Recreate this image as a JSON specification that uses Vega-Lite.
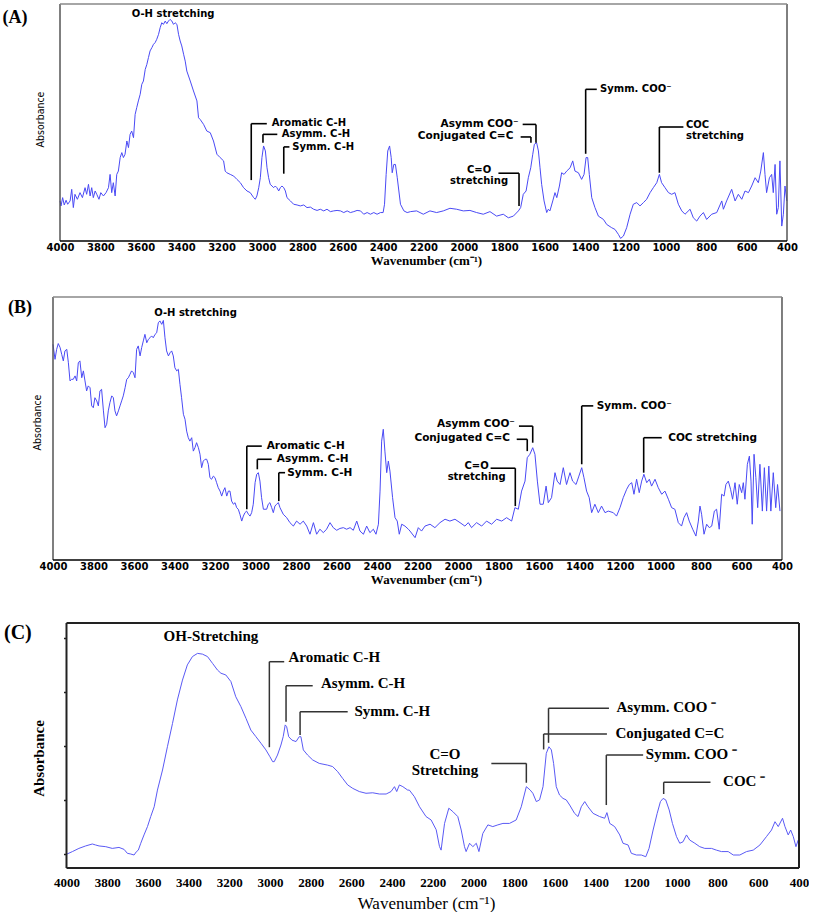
{
"$schema": "https://vega.github.io/schema/vega-lite/v6.json",
"background": "white",
"padding": {"top": 3, "left": 2, "right": 0, "bottom": 2},
"config": {"view": {"stroke": null}, "axis": {"grid": false}},
"datasets": {
"specA": [{"wn":4000,"a":16.9},{"wn":3995,"a":14.8},{"wn":3987,"a":18.3},{"wn":3979,"a":15.2},{"wn":3970,"a":17.2},{"wn":3962,"a":15.5},{"wn":3950,"a":16.9},{"wn":3942,"a":21.8},{"wn":3934,"a":14.1},{"wn":3926,"a":19.7},{"wn":3914,"a":17.6},{"wn":3901,"a":20.4},{"wn":3889,"a":18.3},{"wn":3876,"a":22.5},{"wn":3868,"a":19.7},{"wn":3859,"a":23.9},{"wn":3851,"a":19.0},{"wn":3843,"a":22.5},{"wn":3835,"a":18.3},{"wn":3826,"a":21.1},{"wn":3818,"a":19.7},{"wn":3807,"a":17.6},{"wn":3798,"a":20.4},{"wn":3785,"a":19.0},{"wn":3772,"a":20.4},{"wn":3760,"a":22.5},{"wn":3752,"a":28.1},{"wn":3744,"a":20.4},{"wn":3736,"a":24.6},{"wn":3727,"a":19.0},{"wn":3719,"a":28.1},{"wn":3711,"a":29.5},{"wn":3702,"a":35.2},{"wn":3694,"a":37.3},{"wn":3686,"a":35.2},{"wn":3678,"a":36.6},{"wn":3669,"a":42.2},{"wn":3661,"a":39.4},{"wn":3653,"a":45.0},{"wn":3645,"a":46.4},{"wn":3636,"a":43.6},{"wn":3628,"a":53.4},{"wn":3620,"a":56.3},{"wn":3612,"a":59.1},{"wn":3603,"a":61.9},{"wn":3595,"a":66.1},{"wn":3587,"a":67.5},{"wn":3578,"a":72.4},{"wn":3570,"a":74.5},{"wn":3562,"a":77.4},{"wn":3554,"a":80.2},{"wn":3545,"a":81.6},{"wn":3537,"a":83.0},{"wn":3529,"a":83.7},{"wn":3521,"a":85.1},{"wn":3512,"a":87.2},{"wn":3504,"a":90.0},{"wn":3496,"a":92.1},{"wn":3488,"a":91.4},{"wn":3479,"a":92.8},{"wn":3471,"a":91.7},{"wn":3463,"a":92.8},{"wn":3455,"a":93.5},{"wn":3446,"a":92.8},{"wn":3438,"a":91.4},{"wn":3430,"a":92.1},{"wn":3421,"a":91.4},{"wn":3413,"a":87.2},{"wn":3405,"a":84.4},{"wn":3397,"a":82.3},{"wn":3388,"a":78.8},{"wn":3380,"a":75.9},{"wn":3372,"a":71.7},{"wn":3355,"a":67.5},{"wn":3339,"a":63.3},{"wn":3322,"a":59.1},{"wn":3314,"a":52.0},{"wn":3306,"a":51.3},{"wn":3289,"a":49.2},{"wn":3273,"a":46.4},{"wn":3256,"a":45.7},{"wn":3240,"a":42.2},{"wn":3223,"a":36.6},{"wn":3207,"a":35.2},{"wn":3190,"a":33.8},{"wn":3182,"a":29.5},{"wn":3174,"a":28.8},{"wn":3157,"a":28.1},{"wn":3140,"a":27.4},{"wn":3124,"a":26.0},{"wn":3107,"a":24.6},{"wn":3091,"a":22.5},{"wn":3074,"a":21.1},{"wn":3058,"a":20.4},{"wn":3041,"a":18.3},{"wn":3033,"a":17.6},{"wn":3025,"a":19.0},{"wn":3016,"a":22.5},{"wn":3008,"a":26.7},{"wn":3000,"a":35.2},{"wn":2992,"a":40.1},{"wn":2983,"a":38.0},{"wn":2975,"a":30.9},{"wn":2967,"a":26.7},{"wn":2959,"a":23.9},{"wn":2950,"a":23.2},{"wn":2942,"a":22.5},{"wn":2934,"a":23.2},{"wn":2926,"a":22.5},{"wn":2917,"a":21.1},{"wn":2909,"a":22.5},{"wn":2901,"a":23.2},{"wn":2892,"a":22.5},{"wn":2884,"a":21.1},{"wn":2876,"a":18.3},{"wn":2859,"a":16.9},{"wn":2843,"a":15.5},{"wn":2826,"a":15.2},{"wn":2810,"a":14.8},{"wn":2793,"a":15.2},{"wn":2777,"a":14.1},{"wn":2760,"a":14.3},{"wn":2744,"a":13.4},{"wn":2727,"a":12.9},{"wn":2711,"a":13.4},{"wn":2694,"a":12.7},{"wn":2678,"a":13.4},{"wn":2661,"a":12.4},{"wn":2645,"a":12.7},{"wn":2628,"a":12.9},{"wn":2611,"a":12.7},{"wn":2595,"a":12.0},{"wn":2578,"a":12.7},{"wn":2562,"a":12.0},{"wn":2545,"a":12.4},{"wn":2529,"a":12.9},{"wn":2512,"a":12.7},{"wn":2496,"a":11.3},{"wn":2479,"a":12.0},{"wn":2463,"a":11.3},{"wn":2446,"a":12.0},{"wn":2430,"a":11.3},{"wn":2413,"a":12.0},{"wn":2400,"a":12.0},{"wn":2393,"a":15.5},{"wn":2385,"a":28.1},{"wn":2377,"a":38.0},{"wn":2368,"a":40.1},{"wn":2360,"a":35.2},{"wn":2355,"a":28.8},{"wn":2347,"a":32.3},{"wn":2339,"a":32.3},{"wn":2330,"a":26.7},{"wn":2322,"a":21.1},{"wn":2314,"a":15.5},{"wn":2297,"a":12.7},{"wn":2281,"a":12.0},{"wn":2264,"a":12.4},{"wn":2234,"a":12.7},{"wn":2201,"a":11.3},{"wn":2168,"a":12.7},{"wn":2135,"a":12.0},{"wn":2102,"a":12.7},{"wn":2069,"a":13.8},{"wn":2036,"a":13.4},{"wn":2003,"a":12.7},{"wn":1970,"a":12.9},{"wn":1937,"a":12.0},{"wn":1904,"a":11.3},{"wn":1871,"a":12.4},{"wn":1838,"a":10.5},{"wn":1805,"a":11.3},{"wn":1780,"a":9.8},{"wn":1755,"a":10.5},{"wn":1730,"a":12.7},{"wn":1719,"a":14.1},{"wn":1706,"a":19.7},{"wn":1692,"a":21.1},{"wn":1681,"a":26.7},{"wn":1669,"a":30.9},{"wn":1659,"a":36.6},{"wn":1651,"a":40.8},{"wn":1640,"a":41.5},{"wn":1631,"a":38.0},{"wn":1623,"a":30.9},{"wn":1615,"a":23.9},{"wn":1603,"a":16.9},{"wn":1590,"a":12.0},{"wn":1582,"a":13.4},{"wn":1574,"a":12.7},{"wn":1560,"a":16.9},{"wn":1549,"a":20.4},{"wn":1540,"a":18.3},{"wn":1527,"a":23.2},{"wn":1516,"a":28.8},{"wn":1504,"a":28.1},{"wn":1491,"a":29.5},{"wn":1474,"a":30.9},{"wn":1461,"a":33.8},{"wn":1450,"a":29.5},{"wn":1433,"a":28.8},{"wn":1417,"a":26.0},{"wn":1405,"a":28.1},{"wn":1395,"a":35.2},{"wn":1387,"a":35.2},{"wn":1379,"a":28.1},{"wn":1367,"a":18.3},{"wn":1351,"a":14.1},{"wn":1334,"a":10.5},{"wn":1309,"a":9.1},{"wn":1293,"a":7.0},{"wn":1268,"a":5.6},{"wn":1252,"a":4.9},{"wn":1235,"a":2.8},{"wn":1224,"a":1.1},{"wn":1210,"a":2.1},{"wn":1194,"a":5.6},{"wn":1177,"a":11.3},{"wn":1161,"a":15.5},{"wn":1144,"a":16.2},{"wn":1128,"a":14.8},{"wn":1111,"a":16.2},{"wn":1095,"a":17.6},{"wn":1078,"a":20.4},{"wn":1062,"a":22.5},{"wn":1045,"a":24.6},{"wn":1032,"a":28.1},{"wn":1021,"a":24.6},{"wn":1004,"a":22.5},{"wn":987,"a":20.4},{"wn":971,"a":19.7},{"wn":955,"a":20.4},{"wn":938,"a":15.5},{"wn":921,"a":12.7},{"wn":905,"a":11.3},{"wn":880,"a":13.4},{"wn":864,"a":9.8},{"wn":847,"a":8.4},{"wn":831,"a":10.5},{"wn":814,"a":12.0},{"wn":798,"a":9.1},{"wn":773,"a":11.3},{"wn":748,"a":12.0},{"wn":723,"a":16.9},{"wn":715,"a":13.4},{"wn":699,"a":16.9},{"wn":674,"a":21.8},{"wn":657,"a":16.9},{"wn":641,"a":19.7},{"wn":624,"a":17.6},{"wn":608,"a":21.1},{"wn":591,"a":20.4},{"wn":575,"a":23.2},{"wn":558,"a":26.7},{"wn":542,"a":24.6},{"wn":530,"a":29.5},{"wn":517,"a":37.3},{"wn":509,"a":28.1},{"wn":501,"a":20.4},{"wn":487,"a":26.7},{"wn":476,"a":28.1},{"wn":468,"a":20.4},{"wn":459,"a":32.3},{"wn":451,"a":11.3},{"wn":443,"a":14.1},{"wn":435,"a":33.8},{"wn":426,"a":6.3},{"wn":418,"a":11.3},{"wn":410,"a":23.2},{"wn":401,"a":16.9}],
"specB": [{"wn":4000,"a":82.0},{"wn":3990,"a":76.3},{"wn":3982,"a":80.1},{"wn":3974,"a":82.3},{"wn":3965,"a":80.8},{"wn":3957,"a":78.2},{"wn":3949,"a":75.7},{"wn":3941,"a":79.5},{"wn":3932,"a":80.1},{"wn":3924,"a":75.0},{"wn":3916,"a":68.1},{"wn":3908,"a":68.7},{"wn":3900,"a":68.7},{"wn":3891,"a":70.0},{"wn":3883,"a":68.1},{"wn":3875,"a":75.0},{"wn":3867,"a":75.7},{"wn":3858,"a":69.3},{"wn":3850,"a":71.9},{"wn":3842,"a":68.1},{"wn":3834,"a":64.3},{"wn":3826,"a":66.2},{"wn":3817,"a":65.5},{"wn":3809,"a":58.6},{"wn":3801,"a":57.9},{"wn":3793,"a":61.7},{"wn":3784,"a":60.5},{"wn":3776,"a":58.6},{"wn":3768,"a":64.3},{"wn":3760,"a":64.9},{"wn":3751,"a":56.7},{"wn":3743,"a":50.3},{"wn":3735,"a":51.6},{"wn":3727,"a":56.7},{"wn":3719,"a":59.8},{"wn":3710,"a":62.4},{"wn":3702,"a":61.7},{"wn":3694,"a":56.7},{"wn":3686,"a":54.8},{"wn":3677,"a":56.7},{"wn":3669,"a":58.6},{"wn":3661,"a":60.5},{"wn":3653,"a":62.4},{"wn":3644,"a":65.5},{"wn":3636,"a":68.7},{"wn":3628,"a":69.3},{"wn":3620,"a":70.6},{"wn":3612,"a":71.9},{"wn":3603,"a":71.2},{"wn":3595,"a":69.3},{"wn":3587,"a":80.1},{"wn":3579,"a":81.4},{"wn":3570,"a":77.6},{"wn":3562,"a":80.8},{"wn":3554,"a":83.3},{"wn":3546,"a":85.8},{"wn":3537,"a":82.6},{"wn":3529,"a":83.9},{"wn":3521,"a":84.5},{"wn":3513,"a":85.2},{"wn":3505,"a":84.5},{"wn":3496,"a":85.8},{"wn":3488,"a":86.4},{"wn":3480,"a":90.2},{"wn":3472,"a":90.9},{"wn":3463,"a":89.6},{"wn":3455,"a":91.1},{"wn":3447,"a":84.5},{"wn":3439,"a":79.5},{"wn":3430,"a":77.6},{"wn":3422,"a":78.8},{"wn":3414,"a":79.5},{"wn":3406,"a":77.6},{"wn":3398,"a":73.1},{"wn":3389,"a":71.9},{"wn":3381,"a":72.5},{"wn":3373,"a":66.8},{"wn":3365,"a":61.7},{"wn":3356,"a":55.4},{"wn":3348,"a":53.5},{"wn":3340,"a":49.0},{"wn":3332,"a":46.5},{"wn":3324,"a":45.2},{"wn":3315,"a":46.5},{"wn":3307,"a":41.4},{"wn":3299,"a":42.7},{"wn":3291,"a":44.6},{"wn":3282,"a":42.7},{"wn":3274,"a":40.2},{"wn":3266,"a":35.1},{"wn":3258,"a":37.6},{"wn":3249,"a":38.3},{"wn":3241,"a":38.3},{"wn":3233,"a":36.4},{"wn":3225,"a":31.3},{"wn":3217,"a":30.7},{"wn":3208,"a":31.9},{"wn":3200,"a":31.3},{"wn":3192,"a":29.4},{"wn":3184,"a":27.5},{"wn":3175,"a":26.2},{"wn":3167,"a":24.3},{"wn":3159,"a":26.2},{"wn":3151,"a":27.5},{"wn":3142,"a":24.3},{"wn":3134,"a":26.2},{"wn":3126,"a":26.2},{"wn":3118,"a":22.4},{"wn":3109,"a":21.2},{"wn":3101,"a":21.8},{"wn":3093,"a":19.9},{"wn":3085,"a":19.3},{"wn":3077,"a":17.4},{"wn":3068,"a":14.8},{"wn":3060,"a":16.7},{"wn":3052,"a":18.0},{"wn":3044,"a":18.6},{"wn":3035,"a":17.4},{"wn":3027,"a":16.7},{"wn":3019,"a":18.0},{"wn":3011,"a":21.2},{"wn":3002,"a":29.4},{"wn":2994,"a":32.6},{"wn":2986,"a":33.2},{"wn":2978,"a":30.0},{"wn":2970,"a":23.7},{"wn":2961,"a":19.3},{"wn":2953,"a":19.3},{"wn":2945,"a":19.3},{"wn":2937,"a":21.2},{"wn":2929,"a":21.8},{"wn":2920,"a":19.9},{"wn":2912,"a":18.0},{"wn":2904,"a":20.5},{"wn":2896,"a":21.2},{"wn":2887,"a":21.8},{"wn":2879,"a":19.9},{"wn":2863,"a":17.4},{"wn":2846,"a":16.1},{"wn":2830,"a":14.2},{"wn":2813,"a":12.9},{"wn":2797,"a":14.8},{"wn":2780,"a":13.6},{"wn":2764,"a":14.8},{"wn":2747,"a":12.9},{"wn":2731,"a":9.8},{"wn":2714,"a":14.2},{"wn":2698,"a":9.8},{"wn":2682,"a":11.7},{"wn":2665,"a":10.4},{"wn":2649,"a":11.7},{"wn":2632,"a":14.2},{"wn":2616,"a":12.3},{"wn":2599,"a":11.3},{"wn":2583,"a":12.0},{"wn":2566,"a":12.3},{"wn":2550,"a":11.7},{"wn":2533,"a":12.3},{"wn":2517,"a":11.3},{"wn":2500,"a":14.8},{"wn":2484,"a":11.0},{"wn":2467,"a":9.8},{"wn":2451,"a":12.9},{"wn":2435,"a":10.4},{"wn":2418,"a":11.7},{"wn":2405,"a":9.8},{"wn":2393,"a":13.6},{"wn":2385,"a":26.2},{"wn":2377,"a":45.2},{"wn":2369,"a":49.7},{"wn":2361,"a":41.4},{"wn":2352,"a":33.2},{"wn":2344,"a":37.6},{"wn":2336,"a":33.8},{"wn":2323,"a":23.7},{"wn":2311,"a":16.1},{"wn":2300,"a":14.8},{"wn":2290,"a":9.8},{"wn":2278,"a":13.6},{"wn":2262,"a":12.9},{"wn":2245,"a":11.7},{"wn":2237,"a":11.0},{"wn":2212,"a":8.5},{"wn":2196,"a":12.3},{"wn":2180,"a":11.0},{"wn":2163,"a":12.9},{"wn":2138,"a":13.6},{"wn":2114,"a":12.3},{"wn":2089,"a":14.2},{"wn":2064,"a":15.5},{"wn":2040,"a":14.8},{"wn":2015,"a":15.5},{"wn":1990,"a":14.2},{"wn":1966,"a":12.9},{"wn":1949,"a":14.2},{"wn":1933,"a":12.3},{"wn":1908,"a":14.2},{"wn":1883,"a":12.9},{"wn":1859,"a":14.8},{"wn":1834,"a":13.6},{"wn":1809,"a":15.5},{"wn":1784,"a":14.8},{"wn":1760,"a":16.1},{"wn":1735,"a":14.8},{"wn":1719,"a":19.9},{"wn":1702,"a":19.3},{"wn":1686,"a":26.2},{"wn":1669,"a":30.0},{"wn":1658,"a":38.9},{"wn":1645,"a":40.2},{"wn":1631,"a":42.7},{"wn":1620,"a":40.2},{"wn":1608,"a":30.0},{"wn":1595,"a":21.2},{"wn":1579,"a":21.2},{"wn":1565,"a":28.1},{"wn":1554,"a":21.8},{"wn":1538,"a":23.7},{"wn":1521,"a":33.2},{"wn":1510,"a":30.0},{"wn":1496,"a":28.7},{"wn":1480,"a":35.1},{"wn":1464,"a":28.7},{"wn":1447,"a":33.2},{"wn":1434,"a":30.0},{"wn":1417,"a":28.7},{"wn":1403,"a":31.9},{"wn":1389,"a":35.1},{"wn":1378,"a":31.3},{"wn":1365,"a":26.2},{"wn":1352,"a":23.7},{"wn":1340,"a":18.0},{"wn":1324,"a":21.2},{"wn":1307,"a":18.0},{"wn":1291,"a":20.5},{"wn":1274,"a":18.0},{"wn":1258,"a":18.6},{"wn":1233,"a":18.0},{"wn":1217,"a":16.7},{"wn":1200,"a":19.9},{"wn":1184,"a":23.7},{"wn":1167,"a":26.9},{"wn":1154,"a":28.7},{"wn":1142,"a":29.4},{"wn":1131,"a":25.0},{"wn":1118,"a":30.7},{"wn":1105,"a":25.6},{"wn":1093,"a":30.0},{"wn":1082,"a":32.6},{"wn":1068,"a":29.4},{"wn":1055,"a":30.7},{"wn":1044,"a":28.1},{"wn":1027,"a":30.7},{"wn":1011,"a":27.5},{"wn":994,"a":25.0},{"wn":978,"a":26.2},{"wn":961,"a":23.1},{"wn":945,"a":19.9},{"wn":929,"a":19.3},{"wn":912,"a":14.2},{"wn":896,"a":12.9},{"wn":884,"a":16.1},{"wn":871,"a":18.0},{"wn":858,"a":14.8},{"wn":841,"a":11.7},{"wn":825,"a":9.1},{"wn":813,"a":14.8},{"wn":805,"a":20.5},{"wn":797,"a":17.4},{"wn":785,"a":9.8},{"wn":772,"a":13.6},{"wn":759,"a":12.3},{"wn":747,"a":12.9},{"wn":734,"a":18.6},{"wn":723,"a":19.3},{"wn":710,"a":11.7},{"wn":698,"a":25.0},{"wn":686,"a":24.3},{"wn":677,"a":28.7},{"wn":665,"a":30.0},{"wn":654,"a":26.9},{"wn":644,"a":23.1},{"wn":632,"a":29.4},{"wn":621,"a":21.2},{"wn":611,"a":28.7},{"wn":599,"a":25.6},{"wn":591,"a":29.4},{"wn":583,"a":23.1},{"wn":571,"a":36.4},{"wn":561,"a":39.5},{"wn":553,"a":30.0},{"wn":547,"a":13.6},{"wn":538,"a":40.2},{"wn":529,"a":31.3},{"wn":520,"a":19.9},{"wn":509,"a":36.4},{"wn":497,"a":18.6},{"wn":487,"a":35.1},{"wn":476,"a":18.6},{"wn":465,"a":35.7},{"wn":455,"a":18.6},{"wn":443,"a":33.2},{"wn":431,"a":19.9},{"wn":422,"a":28.7},{"wn":410,"a":18.6}],
"specC": [{"wn":4000,"a":5.6},{"wn":3971,"a":6.7},{"wn":3939,"a":8.0},{"wn":3906,"a":9.0},{"wn":3873,"a":9.8},{"wn":3857,"a":9.4},{"wn":3840,"a":9.0},{"wn":3807,"a":8.7},{"wn":3775,"a":8.0},{"wn":3742,"a":8.4},{"wn":3717,"a":7.6},{"wn":3701,"a":6.0},{"wn":3684,"a":5.7},{"wn":3668,"a":5.3},{"wn":3656,"a":6.7},{"wn":3647,"a":7.3},{"wn":3635,"a":10.1},{"wn":3619,"a":13.5},{"wn":3602,"a":16.9},{"wn":3586,"a":21.0},{"wn":3569,"a":25.0},{"wn":3553,"a":31.8},{"wn":3528,"a":40.0},{"wn":3504,"a":49.5},{"wn":3479,"a":59.0},{"wn":3455,"a":68.6},{"wn":3430,"a":76.7},{"wn":3406,"a":82.9},{"wn":3381,"a":86.3},{"wn":3356,"a":87.6},{"wn":3332,"a":87.3},{"wn":3307,"a":86.3},{"wn":3282,"a":83.5},{"wn":3258,"a":80.8},{"wn":3241,"a":79.5},{"wn":3217,"a":78.8},{"wn":3192,"a":76.1},{"wn":3168,"a":69.9},{"wn":3143,"a":65.9},{"wn":3118,"a":61.1},{"wn":3094,"a":56.3},{"wn":3069,"a":53.6},{"wn":3044,"a":50.9},{"wn":3020,"a":48.2},{"wn":3000,"a":45.4},{"wn":2987,"a":43.4},{"wn":2979,"a":43.4},{"wn":2963,"a":46.1},{"wn":2946,"a":50.2},{"wn":2935,"a":53.6},{"wn":2925,"a":58.4},{"wn":2918,"a":57.7},{"wn":2908,"a":53.6},{"wn":2892,"a":52.2},{"wn":2872,"a":51.6},{"wn":2856,"a":53.6},{"wn":2848,"a":53.6},{"wn":2836,"a":48.2},{"wn":2815,"a":46.1},{"wn":2790,"a":44.1},{"wn":2758,"a":42.7},{"wn":2717,"a":42.0},{"wn":2692,"a":41.4},{"wn":2667,"a":39.3},{"wn":2643,"a":36.6},{"wn":2618,"a":33.9},{"wn":2593,"a":32.5},{"wn":2561,"a":31.2},{"wn":2528,"a":30.5},{"wn":2495,"a":30.7},{"wn":2462,"a":30.2},{"wn":2429,"a":30.2},{"wn":2405,"a":31.2},{"wn":2388,"a":33.2},{"wn":2377,"a":31.2},{"wn":2364,"a":33.9},{"wn":2347,"a":33.2},{"wn":2323,"a":31.8},{"wn":2315,"a":31.8},{"wn":2290,"a":29.1},{"wn":2265,"a":25.0},{"wn":2233,"a":21.0},{"wn":2208,"a":19.6},{"wn":2183,"a":15.6},{"wn":2167,"a":8.8},{"wn":2159,"a":7.3},{"wn":2142,"a":18.2},{"wn":2121,"a":24.4},{"wn":2101,"a":23.0},{"wn":2077,"a":21.0},{"wn":2060,"a":15.5},{"wn":2044,"a":8.7},{"wn":2036,"a":6.7},{"wn":2019,"a":10.1},{"wn":2003,"a":8.7},{"wn":1986,"a":10.1},{"wn":1973,"a":6.7},{"wn":1954,"a":14.1},{"wn":1929,"a":17.6},{"wn":1905,"a":16.9},{"wn":1880,"a":17.6},{"wn":1855,"a":18.2},{"wn":1823,"a":18.2},{"wn":1790,"a":19.6},{"wn":1765,"a":25.0},{"wn":1740,"a":33.2},{"wn":1721,"a":31.8},{"wn":1708,"a":30.5},{"wn":1691,"a":27.1},{"wn":1675,"a":27.8},{"wn":1658,"a":33.2},{"wn":1642,"a":46.8},{"wn":1629,"a":49.5},{"wn":1617,"a":48.2},{"wn":1606,"a":42.7},{"wn":1593,"a":33.2},{"wn":1577,"a":29.8},{"wn":1560,"a":28.4},{"wn":1544,"a":27.8},{"wn":1527,"a":25.7},{"wn":1503,"a":22.3},{"wn":1486,"a":21.0},{"wn":1470,"a":25.0},{"wn":1453,"a":27.1},{"wn":1437,"a":25.0},{"wn":1412,"a":22.3},{"wn":1380,"a":21.0},{"wn":1355,"a":20.3},{"wn":1344,"a":22.6},{"wn":1330,"a":18.2},{"wn":1306,"a":16.9},{"wn":1281,"a":13.5},{"wn":1265,"a":10.1},{"wn":1240,"a":9.4},{"wn":1224,"a":6.0},{"wn":1199,"a":5.3},{"wn":1175,"a":5.3},{"wn":1153,"a":4.6},{"wn":1137,"a":8.0},{"wn":1117,"a":15.5},{"wn":1097,"a":22.3},{"wn":1081,"a":27.1},{"wn":1068,"a":28.4},{"wn":1055,"a":27.8},{"wn":1038,"a":23.7},{"wn":1022,"a":18.2},{"wn":1002,"a":12.8},{"wn":986,"a":10.1},{"wn":970,"a":10.7},{"wn":953,"a":13.5},{"wn":937,"a":11.4},{"wn":912,"a":10.1},{"wn":888,"a":8.7},{"wn":863,"a":8.0},{"wn":830,"a":8.0},{"wn":806,"a":7.3},{"wn":781,"a":6.7},{"wn":748,"a":6.7},{"wn":723,"a":5.3},{"wn":691,"a":5.3},{"wn":658,"a":6.7},{"wn":625,"a":7.3},{"wn":592,"a":9.4},{"wn":560,"a":12.8},{"wn":535,"a":15.5},{"wn":518,"a":18.9},{"wn":502,"a":16.9},{"wn":481,"a":20.3},{"wn":469,"a":16.9},{"wn":453,"a":13.5},{"wn":441,"a":15.5},{"wn":428,"a":12.8},{"wn":415,"a":8.7},{"wn":404,"a":11.4}],
"leadA": [{"x":3053,"y1":25.7,"y2":49.5,"xh":2976},{"x":2995,"y1":41.5,"y2":45.0,"xh":2924},{"x":2892,"y1":28.4,"y2":39.7,"xh":2864},{"x":1643,"y1":41.5,"y2":49.2,"xh":1709},{"x":1668,"y1":41.5,"y2":43.9,"xh":1719},{"x":1727,"y1":14.8,"y2":28.6,"xh":1829},{"x":1397,"y1":36.8,"y2":64.0,"xh":1342},{"x":1032,"y1":28.8,"y2":48.1,"xh":913}],
"labA": [{"label":"O-H  stretching","lx":3440,"ly":95.8,"side":"center"},{"label":"Aromatic C-H","lx":2952,"ly":49.8,"side":"right"},{"label":"Asymm. C-H","lx":2902,"ly":45.0,"side":"right"},{"label":"Symm. C-H","lx":2850,"ly":39.7,"side":"right"},{"label":"Asymm COO⁻","lx":1730,"ly":49.5,"side":"left"},{"label":"Conjugated C=C","lx":1755,"ly":44.3,"side":"left"},{"label":"C=O\nstretching","lx":1925,"ly":29.8,"side":"center"},{"label":"Symm. COO⁻","lx":1326,"ly":64.0,"side":"right"},{"label":"COC\nstretching","lx":900,"ly":48.8,"side":"right"}],
"leadB": [{"x":3043,"y1":19.3,"y2":43.3,"xh":2969},{"x":2991,"y1":34.5,"y2":38.3,"xh":2920},{"x":2885,"y1":22.4,"y2":33.2,"xh":2854},{"x":1631,"y1":44.6,"y2":50.9,"xh":1699},{"x":1658,"y1":41.4,"y2":45.9,"xh":1710},{"x":1717,"y1":20.5,"y2":34.9,"xh":1839},{"x":1389,"y1":36.4,"y2":58.6,"xh":1332},{"x":1083,"y1":33.2,"y2":46.5,"xh":994}],
"labB": [{"label":"O-H  stretching","lx":3296,"ly":94.0,"side":"center"},{"label":"Aromatic C-H","lx":2945,"ly":43.3,"side":"right"},{"label":"Asymm. C-H","lx":2895,"ly":38.3,"side":"right"},{"label":"Symm. C-H","lx":2843,"ly":33.2,"side":"right"},{"label":"Asymm COO⁻","lx":1719,"ly":51.6,"side":"left"},{"label":"Conjugated C=C","lx":1743,"ly":46.5,"side":"left"},{"label":"C=O\nstretching","lx":1908,"ly":35.6,"side":"center"},{"label":"Symm. COO⁻","lx":1315,"ly":58.6,"side":"right"},{"label":"COC stretching","lx":962,"ly":46.5,"side":"right"}],
"leadC": [{"x":3003,"y1":49.3,"y2":84.2,"xh":2930},{"x":2921,"y1":59.7,"y2":74.4,"xh":2790},{"x":2852,"y1":54.3,"y2":63.8,"xh":2618},{"x":1740,"y1":34.8,"y2":42.7,"xh":1912},{"x":1631,"y1":51.1,"y2":65.2,"xh":1334},{"x":1655,"y1":48.4,"y2":54.7,"xh":1344},{"x":1347,"y1":25.7,"y2":46.1,"xh":1166},{"x":1065,"y1":30.2,"y2":35.0,"xh":835}],
"labC": [{"label":"OH-Stretching","lx":3290,"ly":94.7,"side":"center"},{"label":"Aromatic C-H","lx":2909,"ly":86.2,"side":"right"},{"label":"Asymm. C-H","lx":2749,"ly":75.4,"side":"right"},{"label":"Symm. C-H","lx":2585,"ly":64.2,"side":"right"},{"label":"C=O\nStretching","lx":2140,"ly":46.5,"side":"center"},{"label":"Asymm. COO ⁻","lx":1297,"ly":65.6,"side":"right"},{"label":"Conjugated C=C","lx":1302,"ly":55.0,"side":"right"},{"label":"Symm. COO ⁻","lx":1153,"ly":46.5,"side":"right"},{"label":"COC ⁻","lx":773,"ly":35.5,"side":"right"}]
},
"spacing": 29,
"vconcat": [
{
 "width": 746, "height": 237,
 "title": {"text": "(A)", "orient": "left", "anchor": "end", "angle": 0, "align": "left", "baseline": "top", "offset": 7.5, "dy": 6, "font": "Liberation Serif", "fontSize": 18, "fontWeight": "bold", "color": "black"},
 "layer": [
  {"data": {"name": "specA"}, "mark": {"type": "line", "color": "#4a4af5", "strokeWidth": 1},
   "encoding": {
    "x": {"field": "wn", "type": "quantitative", "scale": {"domain": [340.6, 4034.7], "reverse": true, "nice": false, "zero": false},
      "axis": {"title": "Wavenumber (cm⁻¹)", "format": "d", "values": [4000,3800,3600,3400,3200,3000,2800,2600,2400,2200,2000,1800,1600,1400,1200,1000,800,600,400], "ticks": false, "tickSize": 0, "domain": false, "labelFont": "DejaVu Sans", "labelFontWeight": "bold", "labelFontSize": 10, "labelColor": "black", "labelPadding": 1, "labelFlush": false, "labelOverlap": false, "titleFont": "Liberation Serif", "titleFontWeight": "bold", "titleFontSize": 13, "titleColor": "black", "titlePadding": 2}},
    "y": {"field": "a", "type": "quantitative", "scale": {"domain": [0, 100], "nice": false, "zero": false},
      "axis": {"title": "Absorbance", "labels": false, "ticks": false, "tickSize": 0, "domain": false, "offset": -7, "titleY": 115, "titleFont": "Liberation Sans Narrow, DejaVu Sans Condensed, sans-serif", "titleFontWeight": "normal", "titleFontSize": 10.5, "titleColor": "black", "titlePadding": 15}}
   }},
  {"data": {"values": [{}]}, "mark": {"type": "rule", "color": "#555", "strokeWidth": 1.5}, "encoding": {"x": {"datum": 4000}, "y": {"datum": 0}, "y2": {"datum": 100}}},
  {"data": {"values": [{}]}, "mark": {"type": "rule", "color": "#555", "strokeWidth": 1.5}, "encoding": {"x": {"datum": 400}, "y": {"datum": 0}, "y2": {"datum": 100}}},
  {"data": {"values": [{}]}, "mark": {"type": "rule", "color": "#888", "strokeWidth": 1.5}, "encoding": {"x": {"datum": 4000}, "x2": {"datum": 400}, "y": {"datum": 100}}},
  {"data": {"values": [{}]}, "mark": {"type": "rule", "color": "black", "strokeWidth": 1.5}, "encoding": {"x": {"datum": 4000}, "x2": {"datum": 400}, "y": {"datum": 0}}},
  {"data": {"name": "leadA"}, "mark": {"type": "rule", "color": "black", "strokeWidth": 1.6},
   "encoding": {"x": {"field": "x", "type": "quantitative"}, "y": {"field": "y1", "type": "quantitative"}, "y2": {"field": "y2"}}},
  {"data": {"name": "leadA"}, "mark": {"type": "rule", "color": "black", "strokeWidth": 1.6},
   "encoding": {"x": {"field": "x", "type": "quantitative"}, "x2": {"field": "xh"}, "y": {"field": "y2", "type": "quantitative"}}},
  {"data": {"name": "labA"}, "transform": [{"filter": "datum.side == 'right'"}],
   "mark": {"type": "text", "align": "left", "baseline": "middle", "font": "DejaVu Sans", "fontWeight": "bold", "fontSize": 10, "lineHeight": 11, "lineBreak": "\n", "color": "black"},
   "encoding": {"x": {"field": "lx", "type": "quantitative"}, "y": {"field": "ly", "type": "quantitative"}, "text": {"field": "label"}}},
  {"data": {"name": "labA"}, "transform": [{"filter": "datum.side == 'left'"}],
   "mark": {"type": "text", "align": "right", "baseline": "middle", "font": "DejaVu Sans", "fontWeight": "bold", "fontSize": 10.5, "color": "black"},
   "encoding": {"x": {"field": "lx", "type": "quantitative"}, "y": {"field": "ly", "type": "quantitative"}, "text": {"field": "label"}}},
  {"data": {"name": "labA"}, "transform": [{"filter": "datum.side == 'center'"}],
   "mark": {"type": "text", "align": "center", "baseline": "middle", "font": "DejaVu Sans", "fontWeight": "bold", "fontSize": 10, "lineHeight": 11, "lineBreak": "\n", "color": "black"},
   "encoding": {"x": {"field": "lx", "type": "quantitative"}, "y": {"field": "ly", "type": "quantitative"}, "text": {"field": "label"}}}
 ]
},
{
 "spacing": 36,
 "vconcat": [
 {
 "width": 746, "height": 263,
 "title": {"text": "(B)", "orient": "left", "anchor": "end", "angle": 0, "align": "left", "baseline": "top", "offset": 0, "dy": 3, "font": "Liberation Serif", "fontSize": 18, "fontWeight": "bold", "color": "black"},
 "layer": [
  {"data": {"name": "specB"}, "mark": {"type": "line", "color": "#4a4af5", "strokeWidth": 1},
   "encoding": {
    "x": {"field": "wn", "type": "quantitative", "scale": {"domain": [316, 4000], "reverse": true, "nice": false, "zero": false},
      "axis": {"title": "Wavenumber (cm⁻¹)", "format": "d", "values": [4000,3800,3600,3400,3200,3000,2800,2600,2400,2200,2000,1800,1600,1400,1200,1000,800,600,400], "ticks": false, "tickSize": 0, "domain": false, "labelFont": "DejaVu Sans", "labelFontWeight": "bold", "labelFontSize": 10, "labelColor": "black", "labelPadding": 1, "labelFlush": false, "labelOverlap": false, "titleFont": "Liberation Serif", "titleFontWeight": "bold", "titleFontSize": 13, "titleColor": "black", "titlePadding": 2}},
    "y": {"field": "a", "type": "quantitative", "scale": {"domain": [0, 100], "nice": false, "zero": false},
      "axis": {"title": "Absorbance", "labels": false, "ticks": false, "tickSize": 0, "domain": false, "titleY": 125, "titleFont": "Liberation Sans Narrow, DejaVu Sans Condensed, sans-serif", "titleFontWeight": "normal", "titleFontSize": 10.5, "titleColor": "black", "titlePadding": 11}}
   }},
  {"data": {"values": [{}]}, "mark": {"type": "rule", "color": "#555", "strokeWidth": 1.5}, "encoding": {"x": {"datum": 4000}, "y": {"datum": 0}, "y2": {"datum": 100}}},
  {"data": {"values": [{}]}, "mark": {"type": "rule", "color": "#555", "strokeWidth": 1.5}, "encoding": {"x": {"datum": 400}, "y": {"datum": 0}, "y2": {"datum": 100}}},
  {"data": {"values": [{}]}, "mark": {"type": "rule", "color": "#888", "strokeWidth": 1.5}, "encoding": {"x": {"datum": 4000}, "x2": {"datum": 400}, "y": {"datum": 100}}},
  {"data": {"values": [{}]}, "mark": {"type": "rule", "color": "black", "strokeWidth": 1.5}, "encoding": {"x": {"datum": 4000}, "x2": {"datum": 400}, "y": {"datum": 0}}},
  {"data": {"name": "leadB"}, "mark": {"type": "rule", "color": "black", "strokeWidth": 1.6},
   "encoding": {"x": {"field": "x", "type": "quantitative"}, "y": {"field": "y1", "type": "quantitative"}, "y2": {"field": "y2"}}},
  {"data": {"name": "leadB"}, "mark": {"type": "rule", "color": "black", "strokeWidth": 1.6},
   "encoding": {"x": {"field": "x", "type": "quantitative"}, "x2": {"field": "xh"}, "y": {"field": "y2", "type": "quantitative"}}},
  {"data": {"name": "labB"}, "transform": [{"filter": "datum.side == 'right'"}],
   "mark": {"type": "text", "align": "left", "baseline": "middle", "font": "DejaVu Sans", "fontWeight": "bold", "fontSize": 10.5, "color": "black"},
   "encoding": {"x": {"field": "lx", "type": "quantitative"}, "y": {"field": "ly", "type": "quantitative"}, "text": {"field": "label"}}},
  {"data": {"name": "labB"}, "transform": [{"filter": "datum.side == 'left'"}],
   "mark": {"type": "text", "align": "right", "baseline": "middle", "font": "DejaVu Sans", "fontWeight": "bold", "fontSize": 10.5, "color": "black"},
   "encoding": {"x": {"field": "lx", "type": "quantitative"}, "y": {"field": "ly", "type": "quantitative"}, "text": {"field": "label"}}},
  {"data": {"name": "labB"}, "transform": [{"filter": "datum.side == 'center'"}],
   "mark": {"type": "text", "align": "center", "baseline": "middle", "font": "DejaVu Sans", "fontWeight": "bold", "fontSize": 10, "lineHeight": 11, "lineBreak": "\n", "color": "black"},
   "encoding": {"x": {"field": "lx", "type": "quantitative"}, "y": {"field": "ly", "type": "quantitative"}, "text": {"field": "label"}}}
 ]
 },
 {
 "width": 746, "height": 245,
 "title": {"text": "(C)", "orient": "left", "anchor": "end", "angle": 0, "align": "left", "baseline": "top", "offset": 0, "dy": 1, "font": "Liberation Serif", "fontSize": 20, "fontWeight": "bold", "color": "black"},
 "layer": [
  {"data": {"name": "specC"}, "mark": {"type": "line", "color": "#5a5af5", "strokeWidth": 1},
   "encoding": {
    "x": {"field": "wn", "type": "quantitative", "scale": {"domain": [400, 4066.3], "reverse": true, "nice": false, "zero": false},
      "axis": {"title": "Wavenumber (cm⁻¹)", "format": "d", "values": [4000,3800,3600,3400,3200,3000,2800,2600,2400,2200,2000,1800,1600,1400,1200,1000,800,600,400], "ticks": false, "tickSize": 0, "domain": false, "labelFont": "Liberation Serif", "labelFontWeight": "bold", "labelFontSize": 13, "labelColor": "black", "labelPadding": 8, "labelFlush": false, "labelOverlap": false, "titleFont": "Liberation Serif", "titleFontWeight": "normal", "titleFontSize": 17, "titleColor": "black", "titlePadding": 6}},
    "y": {"field": "a", "type": "quantitative", "scale": {"domain": [0, 100], "nice": false, "zero": false},
      "axis": {"title": "Absorbance", "labels": false, "values": [5.8, 16.8, 27.8, 38.8, 49.8, 60.8, 71.8, 82.8, 93.8], "ticks": true, "tickSize": 3, "tickColor": "#222", "tickWidth": 1.5, "domain": false, "offset": -13.5, "titleY": 135, "titleFont": "Liberation Serif", "titleFontWeight": "bold", "titleFontSize": 15, "titleColor": "black", "titlePadding": 16}}
   }},
  {"data": {"values": [{}]}, "mark": {"type": "rule", "color": "#222", "strokeWidth": 2}, "encoding": {"x": {"datum": 4000}, "y": {"datum": 0}, "y2": {"datum": 100}}},
  {"data": {"values": [{}]}, "mark": {"type": "rule", "color": "#222", "strokeWidth": 2}, "encoding": {"x": {"datum": 400}, "y": {"datum": 0}, "y2": {"datum": 100}}},
  {"data": {"values": [{}]}, "mark": {"type": "rule", "color": "#222", "strokeWidth": 2}, "encoding": {"x": {"datum": 4000}, "x2": {"datum": 400}, "y": {"datum": 100}}},
  {"data": {"values": [{}]}, "mark": {"type": "rule", "color": "#222", "strokeWidth": 2}, "encoding": {"x": {"datum": 4000}, "x2": {"datum": 400}, "y": {"datum": 0}}},
  {"data": {"name": "leadC"}, "mark": {"type": "rule", "color": "#333", "strokeWidth": 1.5},
   "encoding": {"x": {"field": "x", "type": "quantitative"}, "y": {"field": "y1", "type": "quantitative"}, "y2": {"field": "y2"}}},
  {"data": {"name": "leadC"}, "mark": {"type": "rule", "color": "#333", "strokeWidth": 1.5},
   "encoding": {"x": {"field": "x", "type": "quantitative"}, "x2": {"field": "xh"}, "y": {"field": "y2", "type": "quantitative"}}},
  {"data": {"name": "labC"}, "transform": [{"filter": "datum.side == 'right'"}],
   "mark": {"type": "text", "align": "left", "baseline": "middle", "font": "Liberation Serif", "fontWeight": "bold", "fontSize": 15, "color": "black"},
   "encoding": {"x": {"field": "lx", "type": "quantitative"}, "y": {"field": "ly", "type": "quantitative"}, "text": {"field": "label"}}},
  {"data": {"name": "labC"}, "transform": [{"filter": "datum.side == 'center'"}],
   "mark": {"type": "text", "align": "center", "baseline": "middle", "font": "Liberation Serif", "fontWeight": "bold", "fontSize": 15, "lineHeight": 16, "lineBreak": "\n", "color": "black"},
   "encoding": {"x": {"field": "lx", "type": "quantitative"}, "y": {"field": "ly", "type": "quantitative"}, "text": {"field": "label"}}}
 ]
 }
 ]
}
]
}
